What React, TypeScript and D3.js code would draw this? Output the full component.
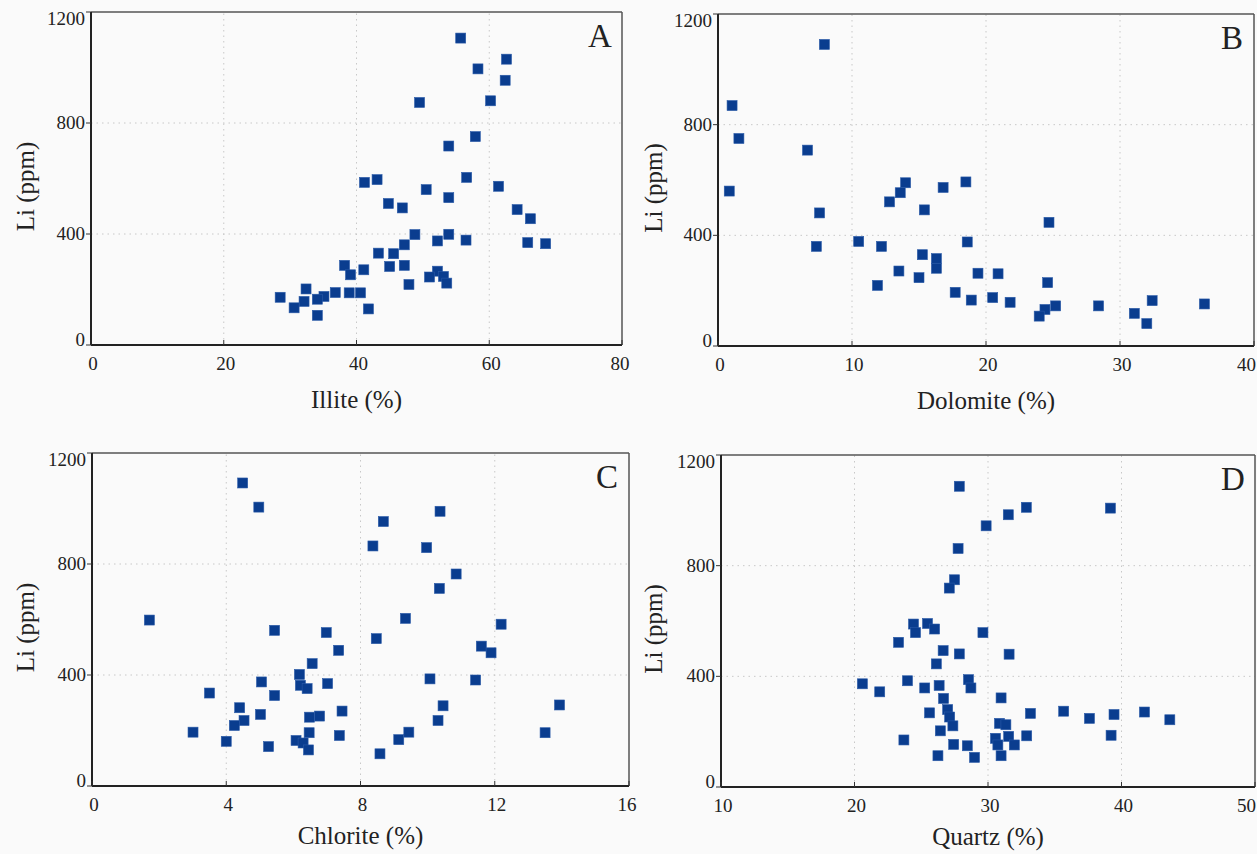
import React from "react";
import * as d3 from "d3";

// ---- Data (Li ppm vs mineral %) ----
const illitePts: [number, number][] = [
  [55.7, 1106], [62.6, 1030], [58.3, 995], [62.4, 954], [60.2, 880], [49.5, 874],
  [57.9, 751], [53.9, 717], [41.2, 586], [43.1, 596], [56.6, 604], [61.4, 572],
  [50.5, 560], [53.9, 531], [44.8, 510], [46.9, 494], [64.2, 488], [66.2, 455],
  [48.8, 398], [53.9, 399], [52.2, 375], [56.5, 378], [65.8, 369], [68.5, 365],
  [47.2, 361], [43.3, 331], [45.6, 329], [38.2, 287], [45.0, 283], [47.2, 287],
  [39.1, 253], [41.1, 271], [52.2, 266], [51.0, 245], [53.1, 247], [53.6, 223],
  [47.9, 218], [32.4, 202], [36.8, 189], [38.9, 188], [40.6, 188], [28.5, 172],
  [35.1, 175], [34.1, 165], [32.1, 157], [30.6, 134], [41.8, 130], [34.1, 107],
];

const dolomitePts: [number, number][] = [
  [7.94, 1090], [1.05, 869], [1.56, 750], [6.68, 708], [0.84, 560], [7.58, 481],
  [7.34, 360], [14.0, 590], [13.6, 554], [12.8, 521], [16.8, 573], [18.5, 593],
  [15.4, 492], [24.7, 447], [10.5, 378], [12.2, 360], [18.6, 376], [15.25, 330],
  [16.3, 316], [16.3, 281], [13.5, 271], [19.4, 263], [20.9, 261], [15.0, 247],
  [24.6, 229], [11.9, 219], [17.7, 194], [18.9, 166], [20.5, 175], [21.8, 158],
  [25.2, 145], [24.4, 132], [23.97, 108], [28.4, 145], [32.4, 164], [36.3, 152],
  [31.07, 118], [32.0, 81],
];

const chloritePts: [number, number][] = [
  [4.49, 1092], [4.97, 1005], [10.37, 990], [8.68, 953], [8.37, 865], [9.97, 859],
  [10.85, 764], [10.35, 712], [1.71, 598], [9.34, 604], [12.19, 583], [5.44, 561],
  [6.98, 553], [8.47, 531], [7.35, 489], [11.6, 504], [11.89, 480], [6.56, 441],
  [6.18, 402], [5.05, 375], [10.07, 386], [11.43, 382], [6.21, 363], [7.02, 369],
  [6.41, 351], [3.5, 335], [5.44, 326], [4.4, 282], [10.46, 289], [13.93, 292],
  [7.45, 270], [5.02, 258], [6.48, 248], [6.78, 252], [4.53, 236], [4.24, 218],
  [10.31, 236], [3.01, 194], [6.47, 192], [9.44, 194], [13.5, 192], [7.37, 182],
  [4.0, 161], [6.08, 164], [6.29, 155], [9.14, 167], [5.26, 142], [6.45, 130],
  [8.58, 116],
];

const quartzPts: [number, number][] = [
  [27.85, 1087], [32.87, 1011], [39.17, 1008], [31.52, 984], [29.86, 944], [27.76, 862],
  [27.49, 749], [27.1, 719], [24.42, 589], [25.47, 591], [26.0, 571], [24.57, 558],
  [29.62, 558], [23.3, 523], [26.64, 493], [27.85, 481], [31.58, 480], [26.13, 445],
  [23.97, 384], [28.54, 388], [20.59, 373], [28.72, 358], [25.26, 358], [26.34, 367],
  [21.89, 344], [26.67, 320], [30.98, 322], [26.98, 280], [35.67, 274], [41.72, 271],
  [33.18, 266], [25.62, 268], [39.44, 262], [27.13, 253], [37.6, 248], [43.62, 243],
  [27.37, 221], [30.86, 230], [31.34, 225], [26.43, 203], [31.55, 183], [32.9, 185],
  [39.22, 187], [23.7, 170], [30.56, 176], [27.43, 154], [28.45, 149], [30.74, 152],
  [31.97, 152], [26.25, 113], [28.99, 107], [30.98, 113],
];

const yTicks = [0, 400, 800, 1200];
const illiteTicks = [0, 20, 40, 60, 80];
const dolomiteTicks = [0, 10, 20, 30, 40];
const chloriteTicks = [0, 4, 8, 12, 16];
const quartzTicks = [10, 20, 30, 40, 50];

const SERIF = "'Liberation Serif', 'Times New Roman', 'DejaVu Serif', serif";
const MARK = "#0a3d8f";

type PanelProps = {
  pts: [number, number][];
  xDomain: [number, number];
  xTicks: number[];
  xRange: [number, number];
  yRange: [number, number];
  xTitle: string;
  letter: string;
  yTitleX: number;
  titleDy: number;
  lastAnchorEnd: boolean;
};

function Panel({ pts, xDomain, xTicks, xRange, yRange, xTitle, letter, yTitleX, titleDy, lastAnchorEnd }: PanelProps) {
  const x = d3.scaleLinear().domain(xDomain).range(xRange);
  const y = d3.scaleLinear().domain([0, 1200]).range(yRange);
  const [x0, x1] = xRange;
  const [yb, yt] = yRange;
  const s = 10;
  return (
    <g>
      {/* grid */}
      {xTicks.slice(1, -1).map((t) => (
        <line key={"gx" + t} x1={x(t)} x2={x(t)} y1={yb} y2={yt} stroke="#c8c8c8" strokeWidth={1} strokeDasharray="1.5,4" />
      ))}
      {yTicks.slice(1, -1).map((t) => (
        <line key={"gy" + t} x1={x0} x2={x1} y1={y(t)} y2={y(t)} stroke="#c8c8c8" strokeWidth={1} strokeDasharray="1.5,4" />
      ))}
      {/* frame */}
      <line x1={x0} x2={x1} y1={yt} y2={yt} stroke="#555" strokeWidth={1.5} />
      <line x1={x1} x2={x1} y1={yt} y2={yb} stroke="#555" strokeWidth={1.5} />
      <line x1={x0} x2={x0} y1={yt} y2={yb} stroke="#222" strokeWidth={2} />
      <line x1={x0} x2={x1} y1={yb} y2={yb} stroke="#222" strokeWidth={2} />
      {/* x ticks */}
      {xTicks.map((t, i) => {
        const last = i === xTicks.length - 1;
        return (
          <g key={"tx" + t}>
            <line x1={x(t)} x2={x(t)} y1={yb} y2={yb - 5} stroke="#333" strokeWidth={1} />
            <text
              x={last && lastAnchorEnd ? 1256 : x(t) + (last ? -2 : 2)}
              y={yb + 25}
              textAnchor={last && lastAnchorEnd ? "end" : "middle"}
              fontFamily={SERIF}
              fontSize={19}
              fill="#222"
            >
              {t}
            </text>
          </g>
        );
      })}
      {/* y ticks */}
      {yTicks.map((t, i) => (
        <g key={"ty" + t}>
          <line x1={x0} x2={x0 - 5} y1={y(t)} y2={y(t)} stroke="#333" strokeWidth={1} />
          <text x={x0 - 6} y={y(t) + 6 + (i === 0 ? -5 : i === yTicks.length - 1 ? 7 : 0)} textAnchor="end" fontFamily={SERIF} fontSize={19} fill="#222">{t}</text>
        </g>
      ))}
      {/* points */}
      {pts.map(([px, py], i) => (
        <rect key={i} x={x(px) - s / 2} y={y(py) - s / 2} width={s} height={s} fill={MARK} stroke="#2a5aa8" strokeWidth={0.6} />
      ))}
      {/* titles */}
      <text x={(x0 + x1) / 2} y={yb + titleDy} textAnchor="middle" fontFamily={SERIF} fontSize={25} fill="#222">{xTitle}</text>
      <text transform={`translate(${yTitleX},${(yb + yt) / 2 + 8}) rotate(-90)`} textAnchor="middle" fontFamily={SERIF} fontSize={25} fill="#222">Li (ppm)</text>
      <text x={x1 - 22} y={yt + 35} textAnchor="middle" fontFamily={SERIF} fontSize={33} fill="#222">{letter}</text>
    </g>
  );
}

export default function App() {
  return (
    <svg width={1257} height={854} style={{ position: "absolute", left: 0, top: 0, background: "#fafafa" }}>
      <rect x={0} y={0} width={1257} height={854} fill="#fafafa" />
      <Panel pts={illitePts} xDomain={[0, 80]} xTicks={illiteTicks} xRange={[91, 622]} yRange={[345, 12]} xTitle="Illite (%)" letter="A" yTitleX={34} titleDy={63} lastAnchorEnd={false} />
      <Panel pts={dolomitePts} xDomain={[0, 40]} xTicks={dolomiteTicks} xRange={[718, 1254]} yRange={[346, 14]} xTitle="Dolomite (%)" letter="B" yTitleX={662} titleDy={63} lastAnchorEnd={true} />
      <Panel pts={chloritePts} xDomain={[0, 16]} xTicks={chloriteTicks} xRange={[92, 629]} yRange={[786, 453]} xTitle="Chlorite (%)" letter="C" yTitleX={34} titleDy={58} lastAnchorEnd={false} />
      <Panel pts={quartzPts} xDomain={[10, 50]} xTicks={quartzTicks} xRange={[721, 1255]} yRange={[787, 455]} xTitle="Quartz (%)" letter="D" yTitleX={662} titleDy={58} lastAnchorEnd={true} />
    </svg>
  );
}
